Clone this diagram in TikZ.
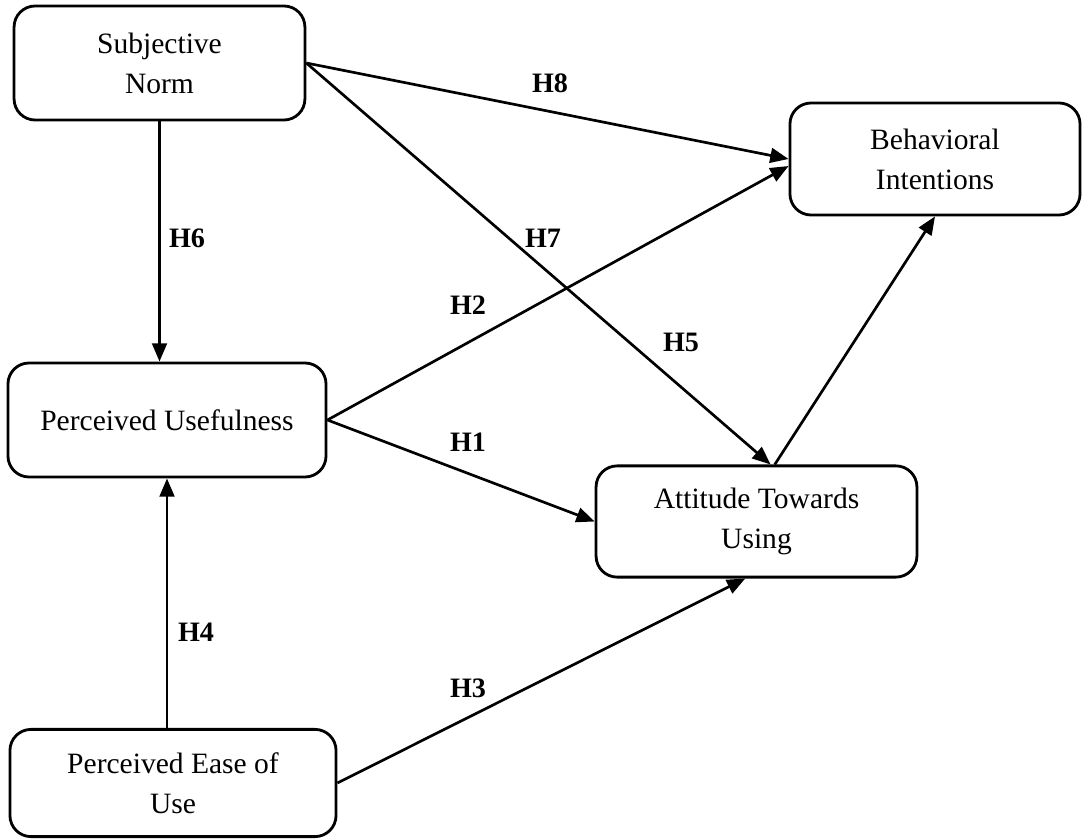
\documentclass[tikz,border=0pt]{standalone}
\usepackage{fontspec}
\setmainfont{Liberation Serif}
\usetikzlibrary{arrows.meta}

\begin{document}
\begin{tikzpicture}[x=0.025cm, y=-0.025cm,
  construct/.style={draw, line width=2pt, rounded corners=15pt, align=center,
    inner sep=0pt, font=\fontsize{21}{28.5}\selectfont},
  path/.style={draw, line width=1.9pt, -{Triangle[length=13pt,width=10.5pt]}},
  hyp/.style={font=\fontsize{20}{24}\selectfont\bfseries}]
  \useasboundingbox (0,0) rectangle (1085,839);
  % constructs
  \node[construct, minimum width=7.27cm, minimum height=2.85cm] (sn) at (159.5,63) {Subjective\\Norm};
  \node[construct, minimum width=7.25cm, minimum height=2.8cm] (bi) at (935,159) {Behavioral\\Intentions};
  \node[construct, minimum width=7.95cm, minimum height=2.85cm] (pu) at (167,420) {Perceived Usefulness};
  \node[construct, minimum width=8.02cm, minimum height=2.78cm] (atu) at (756.5,521.5) {Attitude Towards\\Using};
  \node[construct, minimum width=8.15cm, minimum height=2.68cm] (peu) at (173,783) {Perceived Ease of\\Use};
  % hypotheses
  \draw[path] (sn.east) -- (bi.west);
  \draw[path] (sn.east) -- ([xshift=10pt]atu.north);
  \draw[path] (sn.south) -- (sn.south |- pu.north);
  \draw[path] (pu.east) -- ([yshift=-5pt]bi.west);
  \draw[path] (pu.east) -- (atu.west);
  \draw[path] (pu.south |- peu.north) -- (pu.south);
  \draw[path] (peu.east) -- ([xshift=-8pt]atu.south);
  \draw[path] ([xshift=13pt]atu.north) -- (bi.south);
  % labels
  \node[hyp] (h8) at (550,83) {H8};
  \node[hyp] (h7) at (543,238) {H7};
  \node[hyp] (h6) at (187,238) {H6};
  \node[hyp] (h2) at (468,305) {H2};
  \node[hyp] (h5) at (681,342) {H5};
  \node[hyp] (h1) at (468,442) {H1};
  \node[hyp] (h4) at (196,632) {H4};
  \node[hyp] (h3) at (468,688) {H3};
\end{tikzpicture}
\end{document}
